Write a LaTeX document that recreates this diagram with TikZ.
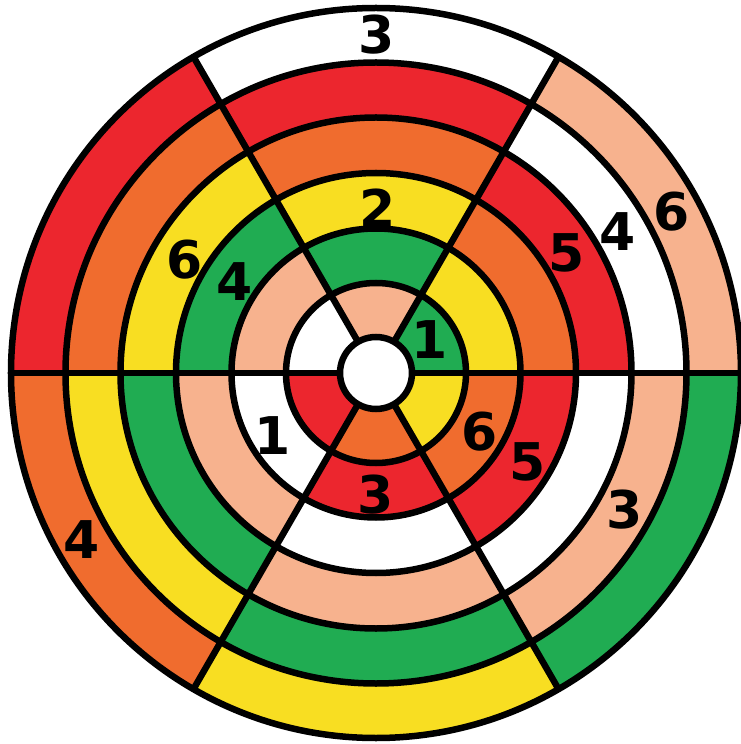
\documentclass[tikz,border=0pt]{standalone}
\usepackage{fontspec}
\setmainfont{DejaVu Sans}
\usetikzlibrary{positioning}

% band colours, in the order they run outwards
\definecolor{band0}{RGB}{32,172,82}   % green
\definecolor{band1}{RGB}{248,222,34}  % yellow
\definecolor{band2}{RGB}{240,108,46}  % orange
\definecolor{band3}{RGB}{236,38,46}   % red
\definecolor{band4}{RGB}{255,255,255} % white
\definecolor{band5}{RGB}{247,178,142} % pink

\begin{document}
\begin{tikzpicture}[
      x=1pt, y=1pt,
      rim/.style={line width=6.5pt, black},
      num/.style={font=\fontsize{52}{62}\selectfont\bfseries, inner sep=0pt}
  ]
      \fill[white] (-376,-371) rectangle (364,373);
      \useasboundingbox (-376,-371) rectangle (364,373);

      % Coloured bands, shifted one step in each sector
      \foreach \s in {0,...,5}{
        \foreach \ro [count=\k from 0, remember=\ro as \ri (initially 36)] in {90,144.5,200,255.5,310.5,365}{
          \pgfmathtruncatemacro{\ci}{mod(\k-\s+6,6)}
          \fill[band\ci] (60*\s:\ri pt) arc[start angle=60*\s, end angle=60*\s+60, radius=\ri pt]
              -- (60*\s+60:\ro pt) arc[start angle=60*\s+60, end angle=60*\s, radius=\ro pt] -- cycle;
        }
      }

      % Rings and spokes
      \foreach \r in {36,90,144.5,200,255.5,310.5,365}
        \draw[rim] (0,0) circle[radius=\r pt];
      \foreach \a in {0,60,...,300}
        \draw[rim] (\a:36pt) -- (\a:365pt);

      % Numbers
      \node[num] (top3)   at (1,338)     {3};
      \node[num] (top2)   at (2,165)     {2};
      \node[num] (ne1)    at (54,33)     {1};
      \node[num] (ne5)    at (191,120)   {5};
      \node[num] (ne4)    at (242,141)   {4};
      \node[num] (ne6)    at (296,161)   {6};
      \node[num] (nw6)    at (-191,113)  {6};
      \node[num] (nw4)    at (-141,91)   {4};
      \node[num] (sw1)    at (-103,-63)  {1};
      \node[num] (sw4)    at (-294,-167) {4};
      \node[num] (bot3)   at (0,-122)    {3};
      \node[num] (se6)    at (104,-59)   {6};
      \node[num] (se5)    at (152,-89)   {5};
      \node[num] (se3)    at (249,-137)  {3};
  \end{tikzpicture}
\end{document}
